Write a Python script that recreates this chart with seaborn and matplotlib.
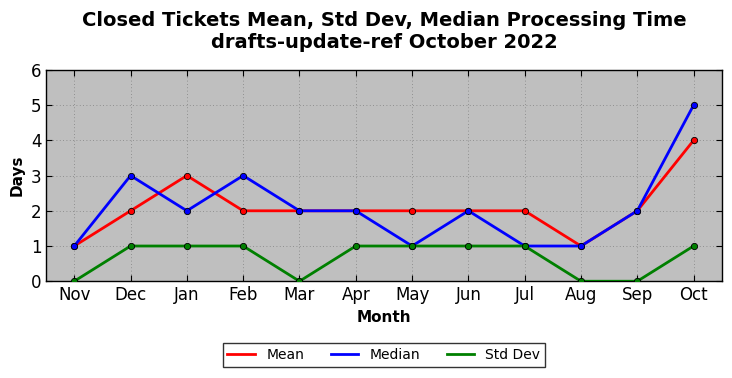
import matplotlib
matplotlib.use("Agg")
import matplotlib.pyplot as plt
import seaborn as sns
import pandas as pd

months = ["Nov", "Dec", "Jan", "Feb", "Mar", "Apr", "May", "Jun", "Jul", "Aug", "Sep", "Oct"]
mean_vals = [1, 2, 3, 2, 2, 2, 2, 2, 2, 1, 2, 4]
median_vals = [1, 3, 2, 3, 2, 2, 1, 2, 1, 1, 2, 5]
std_vals = [0, 1, 1, 1, 0, 1, 1, 1, 1, 0, 0, 1]
series_names = ["Mean", "Median", "Std Dev"]
colors = ["#ff0000", "#0000ff", "#008000"]

rows = []
for name, vals in zip(series_names, [mean_vals, median_vals, std_vals]):
    for i, (m, v) in enumerate(zip(months, vals)):
        rows.append({"idx": i, "Month": m, "Days": v, "Series": name})
df = pd.DataFrame(rows)

plt.rcParams["font.family"] = ["DejaVu Sans"]
fig, ax = plt.subplots(figsize=(7.32, 3.78), dpi=100)
fig.subplots_adjust(left=0.063, right=0.986, top=0.815, bottom=0.256)
ax.set_facecolor("#bfbfbf")

sns.lineplot(data=df, x="idx", y="Days", hue="Series", hue_order=series_names,
             palette=colors, marker="o", markersize=4.5, markeredgecolor="black",
             markeredgewidth=0.6, linewidth=2, ax=ax, legend=True, zorder=3)

ax.set_xlim(-0.5, 11.5)
ax.set_ylim(0, 6)
ax.set_xticks(range(len(months)))
ax.set_xticklabels(months, fontsize=12)
ax.set_yticks(range(0, 7))
ax.tick_params(axis="y", labelsize=12)
ax.tick_params(direction="in", top=True, right=True, length=4, color="black")
ax.grid(True, linestyle=(0, (1, 3)), color="#808080", linewidth=0.6)
ax.set_axisbelow(True)
for s in ax.spines.values():
    s.set_color("black")
    s.set_linewidth(1)

ax.set_xlabel("Month", fontsize=11, fontweight="bold")
ax.set_ylabel("Days", fontsize=11, fontweight="bold")
ax.set_title("Closed Tickets Mean, Std Dev, Median Processing Time\ndrafts-update-ref October 2022",
             fontsize=14, fontweight="bold", pad=16)

handles, labels = ax.get_legend_handles_labels()
for h in handles:
    h.set_marker("")
leg = ax.legend(handles, labels, loc="upper center", bbox_to_anchor=(0.5, -0.26), ncol=3,
                fontsize=10, frameon=True, fancybox=False, edgecolor="black",
                handlelength=2.0, columnspacing=1.9, borderpad=0.35)
leg.get_frame().set_linewidth(1)

fig.savefig("out.png", dpi=100)
